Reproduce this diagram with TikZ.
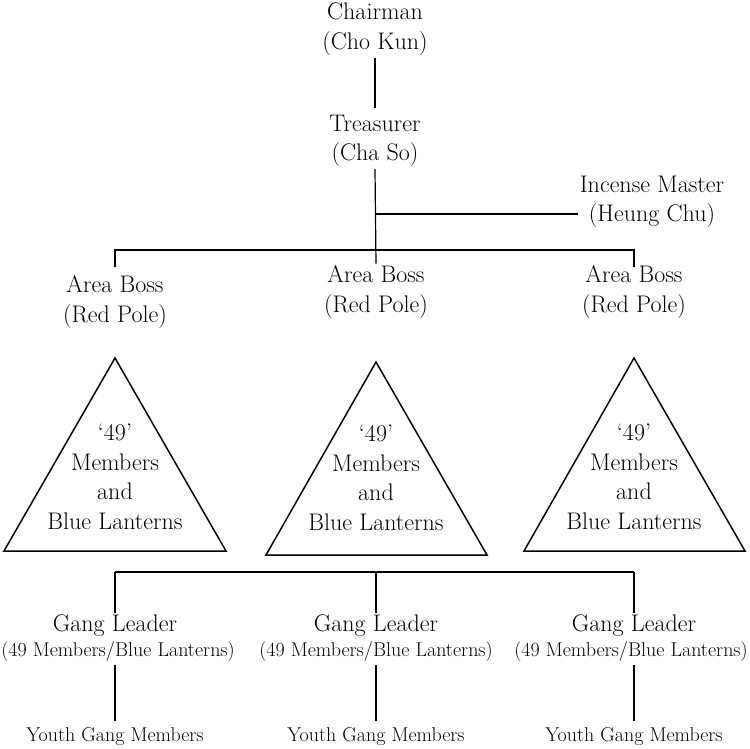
\documentclass[tikz,border=0pt]{standalone}
\usepackage{fontspec}
\setmainfont{Latin Modern Roman}
\begin{document}
\begin{tikzpicture}[x=1pt,y=-1pt,
  lbl/.style={align=center,inner sep=2pt,font=\fontsize{24}{29.5}\selectfont},
  sml/.style={align=center,inner sep=2pt,font=\fontsize{20}{24}\selectfont},
  ln/.style={line width=1.2pt},
  tri/.style={line width=1.5pt,line join=miter}]
\useasboundingbox (0,0) rectangle (750,748);
% top of the hierarchy
\node[lbl] (chair) at (375,29) {Chairman\\(Cho Kun)};
\node[lbl] (treas) at (375,141) {Treasurer\\(Cha So)};
\node[lbl] (inc) at (652,202) {Incense Master\\(Heung Chu)};
\node[lbl] (ab1) at (115,302) {Area Boss\\(Red Pole)};
\node[lbl] (ab2) at (376,292) {Area Boss\\(Red Pole)};
\node[lbl] (ab3) at (634,292) {Area Boss\\(Red Pole)};
% triangles
\draw[tri] (115,358) -- (226,551) -- (4,551) -- cycle;
\draw[tri] (376,362) -- (487,555) -- (266,555) -- cycle;
\draw[tri] (634,358) -- (745,551) -- (524,551) -- cycle;
\node[lbl] (t1) at (115,477) {`49'\\Members\\and\\Blue Lanterns};
\node[lbl] (t2) at (376,478) {`49'\\Members\\and\\Blue Lanterns};
\node[lbl] (t3) at (634,477) {`49'\\Members\\and\\Blue Lanterns};
% gang leaders
\node[lbl] (gl1) at (115,626) {Gang Leader};
\node[lbl] (gl2) at (376,626) {Gang Leader};
\node[lbl] (gl3) at (634,626) {Gang Leader};
\node[sml] (gs1) at (118,651) {(49 Members/Blue Lanterns)};
\node[sml] (gs2) at (376,651) {(49 Members/Blue Lanterns)};
\node[sml] (gs3) at (631,651) {(49 Members/Blue Lanterns)};
\node[sml] (yg1) at (115,737) {Youth Gang Members};
\node[sml] (yg2) at (376,737) {Youth Gang Members};
\node[sml] (yg3) at (634,737) {Youth Gang Members};
% connectors
\draw[ln,shorten <=1pt,shorten >=5pt] (chair.south) -- (treas.north);
\draw[ln] (treas.south) -- (ab2.north);
\coordinate (jt) at (376,214);
\draw[ln] (jt) -- (jt -| inc.west);
\coordinate (bar) at (376,250);
\draw[ln] ([yshift=-17pt]bar -| ab1) -- (bar -| ab1) -- (bar -| ab3) -- ([yshift=-17pt]bar -| ab3);
\coordinate (bar2) at (376,572);
\draw[ln] (bar2 -| gl1) -- (bar2 -| gl3);
\foreach \i in {1,2,3}{
  \draw[ln] (bar2 -| gl\i) -- (gl\i.north);
  \draw[ln,shorten <=2pt,shorten >=5pt] (gl\i |- gs\i.south) -- (yg\i.north);
}
\end{tikzpicture}
\end{document}
